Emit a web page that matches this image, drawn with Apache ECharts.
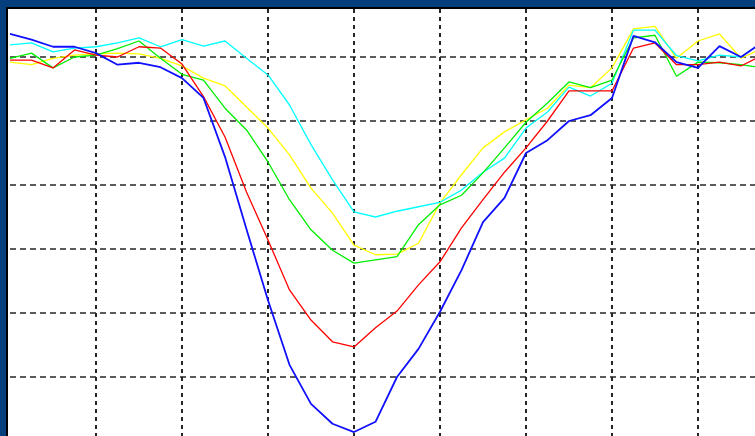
<!DOCTYPE html>
<html>
<head>
<meta charset="utf-8">
<script src="https://cdn.jsdelivr.net/npm/echarts@6/dist/echarts.min.js"></script>
<style>
  html, body { margin: 0; padding: 0; width: 755px; height: 436px; overflow: hidden; background: #063f7e; }
  #panel { position: absolute; left: 6px; top: 7px; width: 760px; height: 440px; background: #ffffff;
           border-left: 2px solid #000; border-top: 2px solid #000; }
  /* the drawing surface runs past the window so the plot continues off the right and bottom edges */
  #chart { position: absolute; left: 0; top: 0; width: 770px; height: 445px; }
</style>
</head>
<body>
<div id="panel"></div>
<div id="chart"></div>
<script>
// Sample positions along the horizontal axis
const categories = Array.from({ length: 36 }, (_, i) => String(i));

const blueValues = [63.6, 62.7, 61.6, 61.6, 60.6, 58.8, 59.1, 58.4, 56.7, 53.6, 44.4, 33.1, 22.0, 11.9, 5.8, 2.7, 1.4, 3.0,
  10.0, 14.4, 20.2, 26.7, 34.2, 38.0, 45.0, 47.0, 50.0, 50.9, 53.6, 63.3, 62.3, 59.2, 58.3, 61.7, 60.0, 62.3];
const redValues = [59.5, 59.5, 58.3, 61.1, 60.3, 60.0, 61.6, 61.4, 58.9, 53.8, 47.5, 38.9, 31.4, 23.6, 18.9, 15.5, 14.7, 17.7,
  20.3, 24.4, 28.0, 33.3, 37.7, 42.0, 45.8, 50.0, 54.7, 54.7, 54.7, 61.4, 62.2, 58.8, 58.8, 59.2, 58.6, 60.3];
const greenValues = [59.8, 60.6, 58.3, 60.0, 60.3, 61.3, 62.5, 59.8, 57.3, 56.4, 52.0, 48.6, 43.6, 37.7, 33.0, 29.8, 27.8, 28.3,
  28.8, 33.8, 36.9, 38.4, 41.9, 45.8, 49.8, 52.8, 56.1, 55.2, 56.4, 63.0, 63.4, 57.0, 59.2, 59.1, 58.8, 58.3];
const yellowValues = [59.2, 58.8, 59.8, 60.3, 60.5, 60.6, 60.5, 59.8, 58.6, 56.7, 55.5, 52.2, 48.9, 44.7, 39.5, 35.6, 30.6, 29.1,
  29.2, 30.9, 37.2, 41.6, 45.8, 48.3, 50.2, 52.0, 55.6, 55.2, 58.3, 64.4, 64.8, 59.8, 62.5, 63.6, 59.8, 61.4];
const cyanValues = [61.9, 62.2, 60.8, 61.4, 61.6, 62.2, 63.0, 61.6, 62.7, 61.7, 62.5, 59.8, 57.2, 52.5, 46.3, 40.8, 35.8, 35.0,
  35.9, 36.6, 37.3, 39.2, 42.0, 44.2, 48.9, 51.4, 55.3, 53.9, 55.9, 64.2, 64.2, 60.2, 59.4, 60.3, 60.0, 62.3];

const chart = echarts.init(document.getElementById('chart'), null, { renderer: 'canvas' });

const makeLine = (name, data, color, width) => ({
  name, type: 'line', data, symbol: 'none', smooth: false, animation: false,
  lineStyle: { color, width }, clip: true
});

chart.setOption({
  animation: false,
  grid: { left: 10, right: 7.5, top: 9, bottom: 4, containLabel: false },
  xAxis: {
    type: 'category',
    data: categories,
    boundaryGap: false,
    axisLine: { show: false },
    axisTick: { show: false },
    axisLabel: { show: false },
    splitLine: {
      show: true,
      interval: (idx) => idx > 0 && idx % 4 === 0,
      lineStyle: { color: '#262626', width: 2, type: [4, 4] }
    }
  },
  yAxis: {
    type: 'value',
    min: 0,
    max: 67.5,
    interval: 10,
    axisLine: { show: false },
    axisTick: { show: false },
    axisLabel: { show: false },
    splitLine: {
      show: true,
      showMinLine: false,
      showMaxLine: false,
      lineStyle: { color: '#262626', width: 1.6, type: [6, 4] }
    }
  },
  series: [
    makeLine('yellow', yellowValues, '#ffff00', 1.3),
    makeLine('cyan', cyanValues, '#00ffff', 1.3),
    makeLine('green', greenValues, '#00ee00', 1.3),
    makeLine('red', redValues, '#ff0000', 1.3),
    makeLine('blue', blueValues, '#1010ff', 1.8)
  ]
});
</script>
</body>
</html>
